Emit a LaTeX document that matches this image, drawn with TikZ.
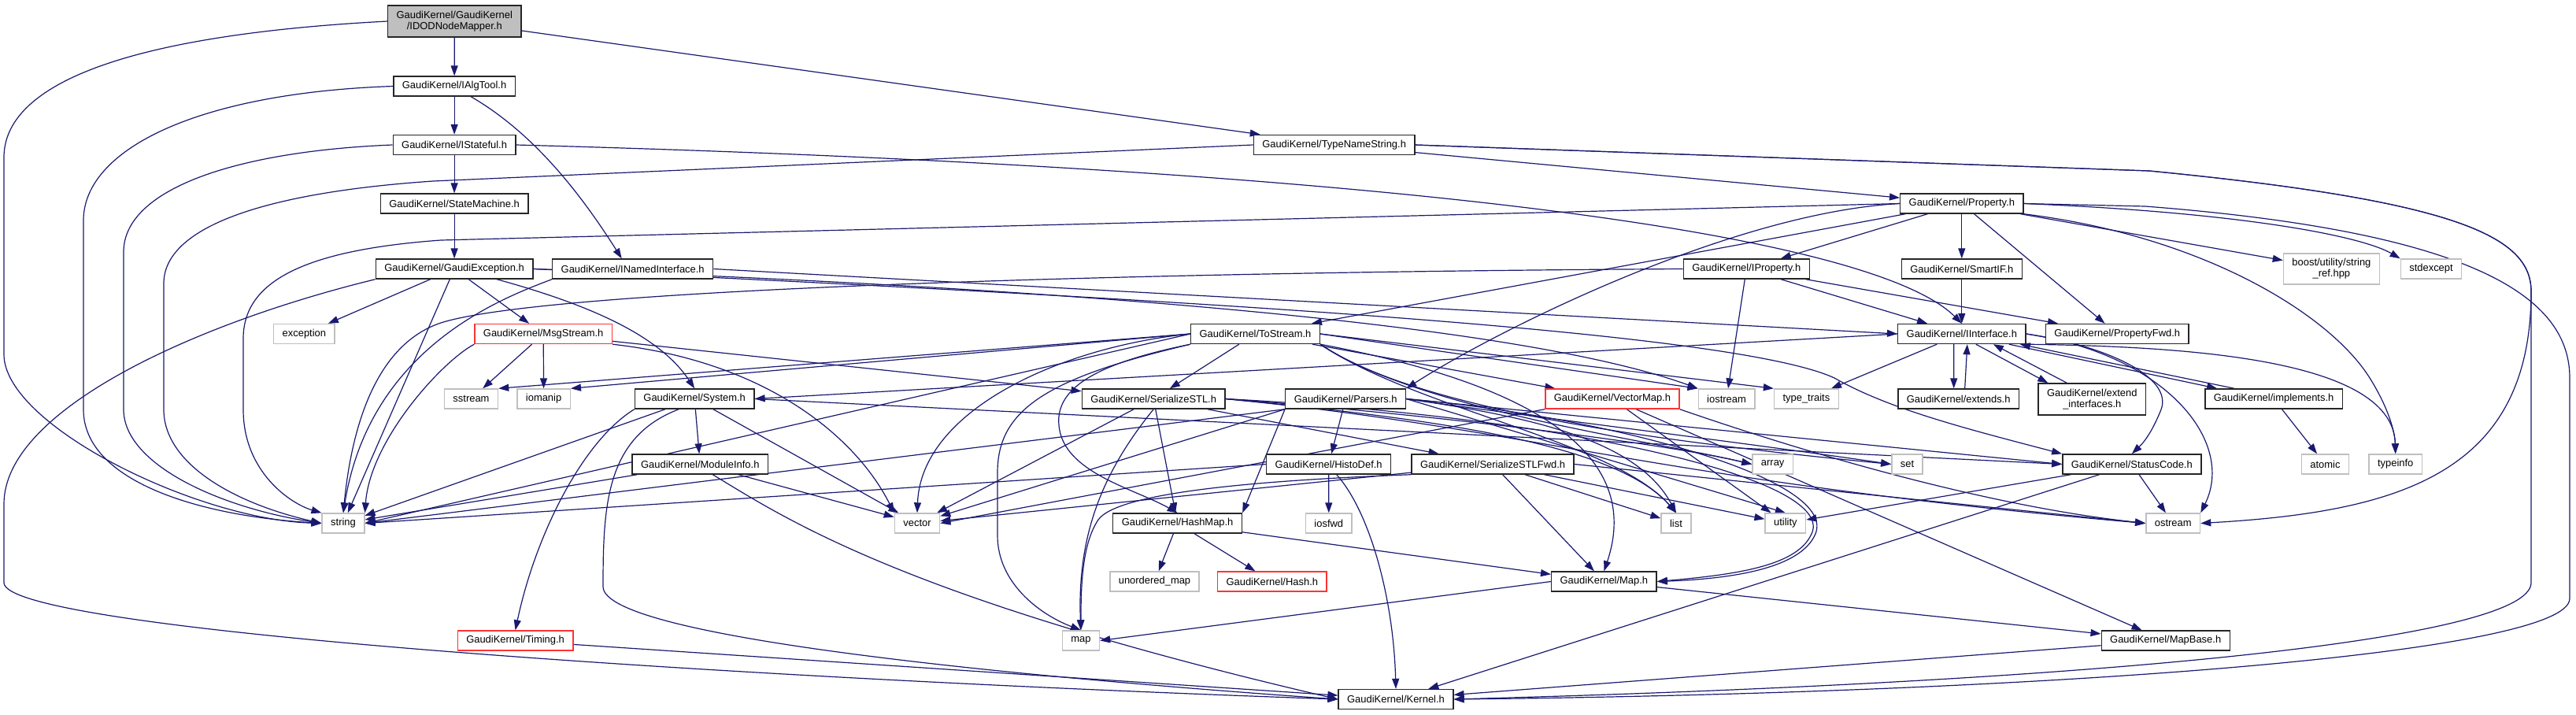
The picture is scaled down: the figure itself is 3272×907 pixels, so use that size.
\documentclass[tikz,border=0pt]{standalone}
\usepackage{fontspec}
\setmainfont{Liberation Sans}
\usetikzlibrary{arrows.meta}
\pgfdeclarelayer{edges}
\pgfsetlayers{edges,main}
\definecolor{inclblue}{HTML}{191970}
\definecolor{sysgrey}{HTML}{BFBFBF}
\definecolor{cutred}{HTML}{FF3333}
\tikzset{
  hdr/.style={draw=black!85, line width=0.7pt, fill=white, align=center,
    minimum height=12.5pt, inner xsep=5.5pt, inner ysep=0pt,
    font=\fontsize{6.47}{7}\selectfont},
  syshdr/.style={hdr, draw=sysgrey},
  cuthdr/.style={hdr, draw=cutred},
  incl/.style={draw=inclblue, line width=0.6pt, -{Triangle[length=6.5pt,width=4.5pt]}}
}

\begin{document}
\begin{tikzpicture}[x=0.5pt,y=-0.5pt]
    \pgfmathsetmacro{\farleft}{5}
    \pgfmathsetmacro{\outerright}{3264}
    \pgfmathsetmacro{\innerright}{3215}
    \useasboundingbox (0,0) rectangle (3272,907);

    % headers
    \node[hdr, fill=sysgrey, minimum height=20pt] (idod) at (577.3,27) {GaudiKernel/GaudiKernel\\/IDODNodeMapper.h};
    \node[hdr] (ialgtool) at (577.1,109.5) {GaudiKernel/IAlgTool.h};
    \node[hdr] (istateful) at (577.1,184) {GaudiKernel/IStateful.h};
    \node[hdr] (statemachine) at (577.1,258.5) {GaudiKernel/StateMachine.h};
    \node[hdr] (gaudiexc) at (577.1,341.5) {GaudiKernel/GaudiException.h};
    \node[hdr] (inamed) at (803.7,341.5) {GaudiKernel/INamedInterface.h};
    \node[syshdr] (exception) at (386.4,424) {exception};
    \node[cuthdr] (msgstream) at (690.2,424) {GaudiKernel/MsgStream.h};
    \node[syshdr] (string) at (436,664.5) {string};
    \node[syshdr] (sstream) at (598.5,506.5) {sstream};
    \node[syshdr] (iomanip) at (690.6,506.5) {iomanip};
    \node[hdr] (system) at (882.2,506.5) {GaudiKernel/System.h};
    \node[hdr] (moduleinfo) at (889.3,589.5) {GaudiKernel/ModuleInfo.h};
    \node[cuthdr] (timing) at (654.6,813.5) {GaudiKernel/Timing.h};
    \node[hdr] (typename) at (1694.6,184) {GaudiKernel/TypeNameString.h};
    \node[hdr] (tostream) at (1594.5,424) {GaudiKernel/ToStream.h};
    \node[hdr] (iproperty) at (2218.3,341.5) {GaudiKernel/IProperty.h};
    \node[hdr] (property) at (2491.8,258.5) {GaudiKernel/Property.h};
    \node[hdr] (smartif) at (2491.8,341.5) {GaudiKernel/SmartIF.h};
    \node[hdr] (iinterface) at (2491.8,424) {GaudiKernel/IInterface.h};
    \node[hdr] (propfwd) at (2689.3,424) {GaudiKernel/PropertyFwd.h};
    \node[syshdr, minimum height=19.5pt] (boost) at (2961.4,341.5) {boost/utility/string\\\_ref.hpp};
    \node[syshdr] (stdexcept) at (3088,341.5) {stdexcept};
    \node[syshdr] (vector) at (1165,664.5) {vector};
    \node[hdr] (serstl) at (1465.2,506.5) {GaudiKernel/SerializeSTL.h};
    \node[hdr] (hashmap) at (1495.6,664.5) {GaudiKernel/HashMap.h};
    \node[syshdr] (unordmap) at (1466.5,738.5) {unordered\_map};
    \node[cuthdr] (hash) at (1615.8,738.5) {GaudiKernel/Hash.h};
    \node[syshdr] (map) at (1372.9,813.5) {map};
    \node[hdr] (histodef) at (1687.7,589.5) {GaudiKernel/HistoDef.h};
    \node[hdr] (parsers) at (1709.2,506.5) {GaudiKernel/Parsers.h};
    \node[cuthdr] (vectormap) at (2047.9,506.5) {GaudiKernel/VectorMap.h};
    \node[syshdr] (iostream) at (2193,506.5) {iostream};
    \node[hdr] (serfwd) at (1896.1,589.5) {GaudiKernel/SerializeSTLFwd.h};
    \node[syshdr] (iosfwd) at (1687.8,664.5) {iosfwd};
    \node[syshdr] (list) at (2129,664.5) {list};
    \node[hdr] (mapH) at (2037.4,738.5) {GaudiKernel/Map.h};
    \node[hdr] (kernel) at (1773,888) {GaudiKernel/Kernel.h};
    \node[syshdr] (typetraits) at (2294.4,506.5) {type\_traits};
    \node[hdr] (extends) at (2487.7,506.5) {GaudiKernel/extends.h};
    \node[hdr, minimum height=20pt] (extendif) at (2657.3,507) {GaudiKernel/extend\\\_interfaces.h};
    \node[syshdr] (array) at (2251.7,589.5) {array};
    \node[syshdr] (set) at (2422.5,589.5) {set};
    \node[hdr] (statuscode) at (2707.8,589.5) {GaudiKernel/StatusCode.h};
    \node[syshdr] (utility) at (2267.9,664.5) {utility};
    \node[syshdr] (ostream) at (2760.2,664.5) {ostream};
    \node[hdr] (mapbase) at (2750.7,813.5) {GaudiKernel/MapBase.h};
    \node[hdr] (implements) at (2888.1,506.5) {GaudiKernel/implements.h};
    \node[syshdr] (atomic) at (2953.4,589.5) {atomic};
    \node[syshdr] (typeinfo) at (3042.7,589.5) {typeinfo};

    \begin{pgfonlayer}{edges}
    \fill[white] (0,0) rectangle (3272,907);
    % IDODNodeMapper.h
    \draw[incl] (idod) -- (ialgtool);
    \draw[incl] (idod) -- (typename);
    \draw[incl] (idod.west) .. controls (150,45) and (\farleft,110) .. (\farleft,200) -- (\farleft,450) .. controls (\farleft,540) and (250,660) .. (string.west);
    % IAlgTool.h
    \draw[incl] (ialgtool) -- (istateful);
    \draw[incl] ([xshift=10.5pt]ialgtool.south) .. controls (680,170) and (740,250) .. ([xshift=-7pt]inamed.north);
    \draw[incl] (ialgtool.west) .. controls (250,118) and (106,190) .. (106,280) -- (106,520) .. controls (106,610) and (250,655) .. (string.west);
    % IStateful.h
    \draw[incl] (istateful) -- (statemachine);
    \draw[incl] (istateful.east) .. controls (1800,215) and (2380,300) .. (iinterface.north);
    \draw[incl] (istateful.west) .. controls (300,192) and (157,240) .. (157,320) -- (157,520) .. controls (157,590) and (280,645) .. (string.west);
    \draw[incl] (statemachine) -- (gaudiexc);
    % GaudiException.h
    \draw[incl] (gaudiexc) -- (exception);
    \draw[incl] (gaudiexc) -- (string);
    \draw[incl] (gaudiexc) -- (msgstream);
    \draw[incl] ([xshift=27pt]gaudiexc.south) .. controls (760,390) and (840,430) .. (system.north);
    \draw[incl] (gaudiexc.east) .. controls (1500,380) and (2200,420) .. (2330,480) .. controls (2400,520) and (2500,545) .. (statuscode.north west);
    \draw[incl] (gaudiexc.east) .. controls (1200,360) and (1900,400) .. (iostream.north west);
    \draw[incl] (gaudiexc.south west) .. controls (250,410) and (\farleft,520) .. (\farleft,640) -- (\farleft,740) .. controls (\farleft,800) and (900,860) .. (kernel.west);
    % INamedInterface.h
    \draw[incl] (inamed.east) -- (iinterface.west);
    \draw[incl] (inamed.south west) .. controls (640,378) and (470,440) .. (string.north);
    % TypeNameString.h
    \draw[incl] (typename) -- (property);
    \draw[incl] (typename.west) -- (550,230) .. controls (330,245) and (208,290) .. (208,360) -- (208,520) .. controls (208,590) and (300,640) .. (string.west);
    \draw[incl] (typename.east) -- (2730,217) .. controls (3120,255) and (\innerright,300) .. (\innerright,370) -- (\innerright,740) .. controls (\innerright,810) and (2700,865) .. (kernel.east);
    \draw[incl] (typename.east) -- (2730,217) .. controls (3120,255) and (\innerright,300) .. (\innerright,370) .. controls (\innerright,600) and (3050,650) .. (ostream.east);
    % Property.h
    \draw[incl] (property.west) -- (560,305) .. controls (380,318) and (309,360) .. (309,430) -- (309,520) .. controls (309,600) and (370,640) .. (string.north west);
    \draw[incl] (property) -- (tostream);
    \draw[incl] (property.west) .. controls (2200,270) and (1900,420) .. (parsers.north east);
    \draw[incl] (property) -- (iproperty);
    \draw[incl] (property) -- (smartif);
    \draw[incl] (property) -- (propfwd);
    \draw[incl] (property) -- (boost);
    \draw[incl] (property.east) .. controls (2850,270) and (3000,300) .. (stdexcept.north west);
    \draw[incl] (property.east) -- (2725,262) .. controls (3150,295) and (\outerright,380) .. (\outerright,480) -- (\outerright,760) .. controls (\outerright,830) and (2600,880) .. (kernel.east);
    \draw[incl] (property.south east) .. controls (2800,300) and (2960,400) .. (3010,480) .. controls (3035,520) and (3042,550) .. (typeinfo.north);
    % IProperty.h
    \draw[incl] (iproperty) -- (iinterface);
    \draw[incl] (iproperty) -- (propfwd);
    \draw[incl] (iproperty) -- (iostream);
    \draw[incl] (iproperty.west) .. controls (1500,345) and (700,365) .. (560,410) .. controls (470,440) and (445,560) .. (string.north);
    \draw[incl] (smartif) -- (iinterface);
    % IInterface.h
    \draw[incl] (iinterface.west) -- (system.east);
    \draw[incl] (iinterface) -- (typetraits);
    \draw[incl] ([xshift=-5pt]iinterface.south) -- ([xshift=-3pt]extends.north);
    \draw[incl] ([xshift=9pt]iinterface.south) -- ([xshift=-28pt]extendif.north);
    \draw[incl] ([xshift=30pt]iinterface.south) -- ([xshift=-36pt]implements.north);
    \draw[incl] (iinterface.east) .. controls (2680,440) and (2760,480) .. (2745,520) .. controls (2735,545) and (2725,560) .. (statuscode.north);
    \draw[incl] (iinterface.east) .. controls (2750,450) and (2840,560) .. (ostream.north east);
    \draw[incl] (iinterface.south east) .. controls (2800,440) and (3040,460) .. (typeinfo.north);
    \draw[incl] ([xshift=4pt]extends.north) -- ([xshift=3.5pt]iinterface.south);
    \draw[incl] ([xshift=-16pt]extendif.north) -- ([xshift=20pt]iinterface.south);
    \draw[incl] ([xshift=-25pt]implements.north) -- ([xshift=37pt]iinterface.south);
    \draw[incl] (implements) -- (atomic);
    % MsgStream.h
    \draw[incl] (msgstream) -- (sstream);
    \draw[incl] (msgstream) -- (iomanip);
    \draw[incl] (msgstream.south west) .. controls (560,460) and (470,560) .. (string.north east);
    \draw[incl] (msgstream.south east) .. controls (980,460) and (1090,560) .. (vector.north west);
    \draw[incl] (msgstream) -- (serstl);
    % System.h
    \draw[incl] (system) -- (moduleinfo);
    \draw[incl] (system) -- (string);
    \draw[incl] (system) -- (vector);
    \draw[incl] (system.south west) .. controls (740,560) and (680,680) .. (timing.north);
    \draw[incl] ([xshift=-10pt]system.south) .. controls (770,555) and (766,640) .. (766,745) .. controls (766,810) and (1300,860) .. (kernel.west);
    \draw[incl] (system.east) -- (statuscode.west);
    % ModuleInfo.h, Timing.h
    \draw[incl] (moduleinfo) -- (string);
    \draw[incl] (moduleinfo) -- (vector);
    \draw[incl] ([xshift=8pt]moduleinfo.south) .. controls (1000,660) and (1150,760) .. (kernel.west);
    \draw[incl] (timing) -- (kernel);
    % ToStream.h
    \draw[incl] (tostream.west) -- (sstream.north east);
    \draw[incl] (tostream.west) -- (iomanip.north east);
    \draw[incl] (tostream.west) -- (string.east);
    \draw[incl] (tostream.west) .. controls (1350,440) and (1170,520) .. (vector.north);
    \draw[incl] (tostream) -- (serstl);
    \draw[incl] (tostream.south west) .. controls (1400,460) and (1340,490) .. (1345,540) .. controls (1350,600) and (1440,620) .. (hashmap.north);
    \draw[incl] (tostream.south west) .. controls (1330,480) and (1267,520) .. (1267,600) -- (1267,680) .. controls (1267,740) and (1320,780) .. (map.north);
    \draw[incl] (tostream) -- (vectormap);
    \draw[incl] (tostream.east) -- (iostream.north west);
    \draw[incl] (tostream.east) -- (typetraits.north west);
    \draw[incl] (tostream.south east) .. controls (1800,520) and (2100,560) .. (set.west);
    \draw[incl] (tostream.south east) .. controls (1800,520) and (2050,560) .. (list.north);
    \draw[incl] (tostream.south east) .. controls (1800,520) and (2100,560) .. (array.west);
    \draw[incl] (tostream.south east) .. controls (1850,470) and (2100,540) .. (mapH.north);
    % SerializeSTL.h
    \draw[incl] (serstl) -- (vector);
    \draw[incl] (serstl.south) .. controls (1400,600) and (1368,680) .. (map.north);
    \draw[incl] (serstl) -- (hashmap);
    \draw[incl] (serstl) -- (serfwd);
    \draw[incl] (serstl.east) .. controls (1800,530) and (2050,560) .. (list.north);
    \draw[incl] (serstl.east) .. controls (1800,525) and (2100,560) .. (array.west);
    \draw[incl] (serstl.east) .. controls (2000,530) and (2340,610) .. (2300,680) .. controls (2280,720) and (2200,730) .. (mapH.east);
    \draw[incl] (serstl.east) .. controls (1950,545) and (2100,610) .. (ostream.west);
    % Parsers.h
    \draw[incl] (parsers) -- (histodef);
    \draw[incl] (parsers.south west) -- (vector);
    \draw[incl] (parsers.south west) -- (string.east);
    \draw[incl] (parsers.south west) -- (hashmap.north east);
    \draw[incl] (parsers.east) .. controls (1950,530) and (2080,560) .. (list.north);
    \draw[incl] (parsers.east) .. controls (1950,530) and (2200,560) .. (set.west);
    \draw[incl] (parsers.east) .. controls (2050,530) and (2340,610) .. (2305,680) .. controls (2285,722) and (2200,735) .. (mapH.east);
    \draw[incl] (parsers.east) -- (statuscode.west);
    \draw[incl] (parsers.east) -- (utility.north);
    % SerializeSTLFwd.h
    \draw[incl] (serfwd.south west) .. controls (1600,610) and (1420,625) .. (1395,660) .. controls (1375,690) and (1373,740) .. (map.north);
    \draw[incl] (serfwd) -- (vector);
    \draw[incl] (serfwd) -- (mapH);
    \draw[incl] (serfwd) -- (list);
    \draw[incl] (serfwd) -- (utility);
    \draw[incl] (serfwd.east) -- (ostream.west);
    % VectorMap.h
    \draw[incl] (vectormap.south west) -- (vector.east);
    \draw[incl] (vectormap) -- (mapbase);
    \draw[incl] (vectormap) -- (utility);
    \draw[incl] (vectormap.south east) .. controls (2250,560) and (2500,640) .. (ostream.west);
    % HistoDef.h
    \draw[incl] (histodef) -- (iosfwd);
    \draw[incl] ([xshift=5pt]histodef.south) .. controls (1740,650) and (1770,760) .. (kernel.north);
    \draw[incl] (histodef.west) -- (string.east);
    % HashMap.h, Map.h, MapBase.h
    \draw[incl] (hashmap) -- (unordmap);
    \draw[incl] (hashmap) -- (hash);
    \draw[incl] (hashmap) -- (mapH);
    \draw[incl] (mapH.west) -- (map.east);
    \draw[incl] (mapH) -- (mapbase);
    \draw[incl] (mapbase) -- (kernel);
    % StatusCode.h
    \draw[incl] (statuscode) -- (kernel);
    \draw[incl] (statuscode) -- (ostream);
    \draw[incl] (statuscode) -- (utility);
    \end{pgfonlayer}
\end{tikzpicture}
\end{document}
